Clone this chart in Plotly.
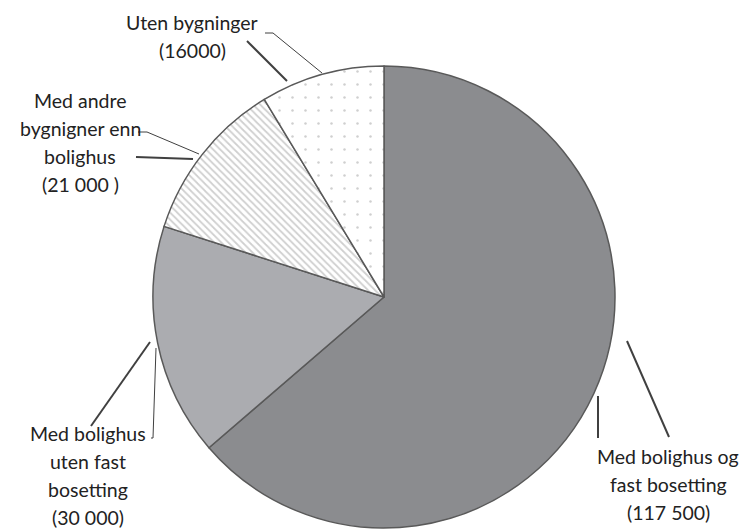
import plotly.graph_objects as go

# slices, clockwise from 12 o'clock
labels = ['Med bolighus og fast bosetting', 'Med bolighus uten fast bosetting',
          'Med andre bygnigner enn bolighus', 'Uten bygninger']
values = [117500, 30000, 21000, 16000]
colors = ['#8b8c8f', '#abacb0', '#ffffff', '#ffffff']
patterns = ['', '', '\\', '.']

# label text, one list of lines per slice
label_lines = [
    ['Med bolighus og', 'fast bosetting', '(117 500)'],
    ['Med bolighus', 'uten fast', 'bosetting', '(30 000)'],
    ['Med andre', 'bygnigner enn', 'bolighus', '(21 000 )'],
    ['Uten bygninger', '(16000)'],
]

W, H = 746, 529
cx, cy, r = 384, 297, 231

fig = go.Figure()

fig.add_trace(go.Pie(
    labels=labels,
    values=values,
    sort=False,
    direction='clockwise',
    rotation=0,
    textinfo='none',
    hoverinfo='label+value',
    showlegend=False,
    domain=dict(x=[(cx - r) / W, (cx + r) / W], y=[1 - (cy + r) / H, 1 - (cy - r) / H]),
    marker=dict(
        colors=colors,
        line=dict(color='#595959', width=1.5),
        pattern=dict(shape=patterns, fgcolor='#a0a0a0', bgcolor='#ffffff',
                     size=[8, 8, 5, 13], solidity=[0.3, 0.3, 0.35, 0.03],
                     fillmode='overlay'),
    ),
))

# label anchor (centre x, first line y) in pixels
label_pos = [(668, 456), (88, 433), (80, 100), (192, 22)]
line_gap = 28

annotations = []
for lines, (lx, ly) in zip(label_lines, label_pos):
    for i, t in enumerate(lines):
        annotations.append(dict(x=lx, y=ly + i * line_gap, xref='x', yref='y', text=t,
                                showarrow=False, xanchor='center', yanchor='middle',
                                font=dict(family='Lato', size=19.5, color='#222222')))

# leader lines (thin and thick ones as in the original)
thin = [
    [(265, 33), (273, 33), (322, 73)],
    [(138, 132), (147, 132), (199, 154)],
    [(151, 438), (153, 438), (156, 348)],
]
thick = [
    [(247, 41), (287, 81)],
    [(136, 157), (193, 159)],
    [(150, 342), (91, 426)],
    [(627, 341), (669, 437)],
    [(598, 396), (598, 438)],
]
shapes = []
for pts in thin:
    path = 'M ' + ' L '.join(f'{x},{y}' for x, y in pts)
    shapes.append(dict(type='path', path=path, xref='x', yref='y',
                       line=dict(color='#404040', width=1)))
for pts in thick:
    path = 'M ' + ' L '.join(f'{x},{y}' for x, y in pts)
    shapes.append(dict(type='path', path=path, xref='x', yref='y',
                       line=dict(color='#404040', width=2)))

fig.update_layout(
    width=W,
    height=H,
    margin=dict(l=0, r=0, t=0, b=0),
    paper_bgcolor='white',
    plot_bgcolor='rgba(0,0,0,0)',
    xaxis=dict(range=[0, W], visible=False, fixedrange=True),
    yaxis=dict(range=[H, 0], visible=False, fixedrange=True),
    annotations=annotations,
    shapes=shapes,
)

fig.write_html('out.html', config={'displayModeBar': False},
               post_script="document.body.style.margin='0';document.body.style.overflow='hidden';")
